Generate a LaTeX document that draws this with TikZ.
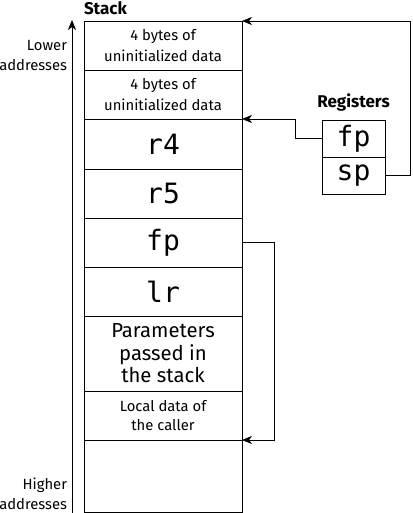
\documentclass[tikz,border=0pt]{standalone}
\usepackage{fontspec}
\setmainfont{Fira Sans}
\setmonofont{DejaVu Sans Mono}
\usetikzlibrary{positioning,arrows.meta}

\begin{document}
\begin{tikzpicture}[x=1pt,y=-1pt,line width=0.6pt,
every node/.style={inner sep=0pt,outer sep=0pt},
cell/.style={draw,minimum width=158pt,align=center,font=\fontsize{14.8}{21}\selectfont},
mono/.style={cell,font=\fontsize{28}{28}\ttfamily},
big/.style={cell,font=\fontsize{20.3}{22.5}\selectfont},
reg/.style={draw,minimum width=63pt,minimum height=37pt,font=\fontsize{28}{28}\ttfamily},
title/.style={font=\fontsize{17}{20}\bfseries},
side/.style={align=right,font=\fontsize{14.8}{20}\selectfont},
ptr/.style={-{Stealth[length=10pt,width=8pt,inset=3pt]}}
]
\useasboundingbox (0,0) rectangle (412,513);

% stack cells
\node[cell,minimum height=49pt,anchor=north west] (s1) at (84,21) {4 bytes of\\uninitialized data};
\node[cell,minimum height=49pt,below=0pt of s1] (s2) {4 bytes of\\uninitialized data};
\node[mono,minimum height=50pt,below=0pt of s2] (s3) {r4};
\node[mono,minimum height=49pt,below=0pt of s3] (s4) {r5};
\node[mono,minimum height=49pt,below=0pt of s4] (s5) {fp};
\node[mono,minimum height=49pt,below=0pt of s5] (s6) {lr};
\node[big,minimum height=75pt,below=0pt of s6] (s7) {Parameters\\passed in\\the stack};
\node[cell,minimum height=49pt,below=0pt of s7,font=\fontsize{14.8}{19}\selectfont] (s8) {Local data of\\the caller};
\node[cell,minimum height=72pt,below=0pt of s8] (s9) {};
\node[title,anchor=west] (stk) at (84,8) {Stack};

% address axis
\coordinate (lo) at (72,513);
\coordinate (hi) at (72,20);
\draw[ptr] (lo) -- (hi);
\node[side,anchor=east] (lower) at (67,55) {Lower\\addresses};
\node[side,anchor=east] (higher) at (67,494) {Higher\\addresses};

% registers
\node[reg,anchor=north west] (rfp) at (322,120) {fp};
\node[reg,below=0pt of rfp] (rsp) {sp};
\node[title,above=9pt of rfp] (regs) {Registers};

% pointers
\draw[ptr] (rfp.west) -- ++(-27,0) |- (s3.north east);
\draw[ptr] (rsp.east) -- ++(25,0) |- (s1.north east);
\draw[ptr] (s5.east) -- ++(32,0) |- (s9.north east);
\end{tikzpicture}
\end{document}
